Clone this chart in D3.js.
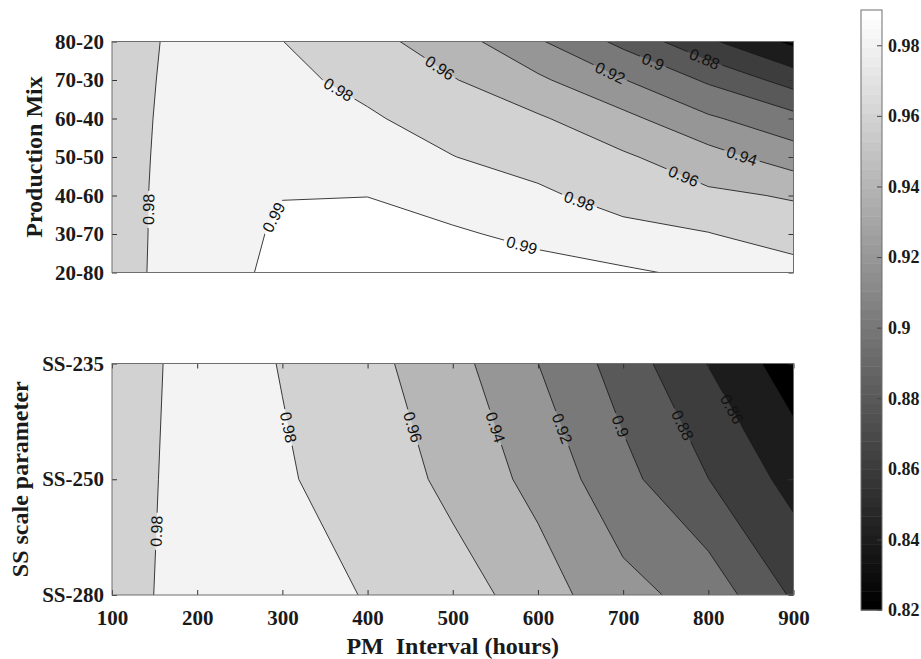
<!DOCTYPE html>
<html><head><meta charset="utf-8">
<script src="https://cdn.jsdelivr.net/npm/d3@7"></script>
<style>
html,body{margin:0;padding:0;background:#fff;}
svg{display:block;}
</style></head>
<body>
<svg id="chart" width="921" height="659"></svg>
<script>
// ---------------- data ----------------
const hours = [100, 200, 300, 400, 500, 600, 700, 800, 900];

const mixLabels = ["80-20", "70-30", "60-40", "50-50", "40-60", "30-70", "20-80"];
const mix_80_20 = [0.9748, 0.9840, 0.9802, 0.9667, 0.9491, 0.9223, 0.8948, 0.8635, 0.8351];
const mix_70_30 = [0.9735, 0.9860, 0.9845, 0.9750, 0.9612, 0.9436, 0.9208, 0.8971, 0.8716];
const mix_60_40 = [0.9735, 0.9870, 0.9865, 0.9822, 0.9720, 0.9624, 0.9456, 0.9228, 0.9066];
const mix_50_50 = [0.9738, 0.9875, 0.9880, 0.9855, 0.9804, 0.9720, 0.9627, 0.9480, 0.9295];
const mix_40_60 = [0.9740, 0.9880, 0.9899, 0.9899, 0.9870, 0.9837, 0.9720, 0.9636, 0.9583];
const mix_30_70 = [0.97465, 0.9873, 0.9907, 0.9925, 0.9909, 0.9883, 0.9865, 0.9808, 0.9702];
const mix_20_80 = [0.9759, 0.9859, 0.9920, 0.9935, 0.9935, 0.9925, 0.99072, 0.9890, 0.9885];

const ssLabels = ["SS-235", "SS-250", "SS-280"];
const ss_235 = [0.9725, 0.9850, 0.9796, 0.9661, 0.9468, 0.9201, 0.8911, 0.8594, 0.8286];
const ss_250 = [0.9728, 0.9860, 0.9810, 0.9758, 0.9536, 0.9343, 0.9060, 0.8802, 0.8530];
const ss_280 = [0.9752, 0.9850, 0.9840, 0.9795, 0.9705, 0.9493, 0.9267, 0.9121, 0.8773];

const levels = [0.82, 0.84, 0.86, 0.88, 0.90, 0.92, 0.94, 0.96, 0.98, 0.99];
const colorbarTicks = [0.82, 0.84, 0.86, 0.88, 0.90, 0.92, 0.94, 0.96, 0.98];

// contour label spots (level, hours, row index)
const mixLabelSpots = [
  {level: 0.98, h: 142.3, r: 4.36}, {level: 0.99, h: 291, r: 4.58},
  {level: 0.98, h: 365.6, r: 1.26}, {level: 0.96, h: 485, r: 0.68},
  {level: 0.92, h: 684.9, r: 0.81}, {level: 0.90, h: 733.9, r: 0.59},
  {level: 0.88, h: 794.6, r: 0.51}, {level: 0.94, h: 839.5, r: 2.97},
  {level: 0.96, h: 771.1, r: 3.49}, {level: 0.98, h: 647.8, r: 4.19},
  {level: 0.99, h: 580.9, r: 5.31}
];
const ssLabelSpots = [
  {level: 0.98, h: 153.2, r: 1.45}, {level: 0.98, h: 308.6, r: 0.55},
  {level: 0.96, h: 449.8, r: 0.557}, {level: 0.94, h: 547.6, r: 0.557},
  {level: 0.92, h: 623.5, r: 0.575}, {level: 0.90, h: 696.3, r: 0.544},
  {level: 0.88, h: 766.7, r: 0.544}, {level: 0.86, h: 823.9, r: 0.41}
];

// ---------------- drawing ----------------
const svg = d3.select("#chart");
const X0 = 112, X1 = 793.5;
const x = d3.scaleLinear().domain([100, 900]).range([X0, X1]);
const cmin = 0.82, cmax = 0.99;
function grayOf(v) {
  const k = Math.min(63, Math.max(0, Math.floor((v - cmin) / (cmax - cmin) * 64 + 1e-9)));
  const g = Math.round(k / 63 * 255);
  return d3.rgb(g, g, g).toString();
}
const serif = "'Liberation Serif','Times New Roman',Times,serif";
const sans = "'Liberation Sans',Arial,Helvetica,sans-serif";

const defs = svg.append("defs");
const mask = defs.append("mask").attr("id", "labelGaps")
  .attr("maskUnits", "userSpaceOnUse").attr("x", 0).attr("y", 0).attr("width", 921).attr("height", 659);
mask.append("rect").attr("x", 0).attr("y", 0).attr("width", 921).attr("height", 659).attr("fill", "#fff");

function panel(cfg) {
  const grid = cfg.grid, n = hours.length, m = cfg.rows.length;
  const y = d3.scalePoint().domain(cfg.rows).range([cfg.top, cfg.bottom]);
  const xi = d3.scaleLinear().domain([0, n - 1]).range([x(hours[0]), x(hours[n - 1])]);
  const yi = d3.scaleLinear().domain([0, m - 1]).range([cfg.top, cfg.bottom]);
  const g = svg.append("g");

  // filled bands
  const bands = d3.contours().size([n, m]).thresholds(levels)(grid.flat());
  const proj = d3.geoTransform({
    point(px, py) {
      this.stream.point(xi(Math.max(0, Math.min(n - 1, px - 0.5))),
                        yi(Math.max(0, Math.min(m - 1, py - 0.5))));
    }
  });
  const gp = d3.geoPath(proj);
  g.append("g").selectAll("path").data(bands).join("path")
    .attr("d", gp).attr("fill", d => grayOf(d.value)).attr("stroke", "none");

  // contour lines (marching squares)
  function segs(t) {
    const out = [];
    for (let j = 0; j < m - 1; j++) for (let i = 0; i < n - 1; i++) {
      const a = grid[j][i], b = grid[j][i + 1], c = grid[j + 1][i + 1], d = grid[j + 1][i];
      const cr = (v0, v1) => (v0 >= t) !== (v1 >= t);
      const p = [];
      if (cr(a, b)) p.push([i + (t - a) / (b - a), j]);
      if (cr(b, c)) p.push([i + 1, j + (t - b) / (c - b)]);
      if (cr(d, c)) p.push([i + (t - d) / (c - d), j + 1]);
      if (cr(a, d)) p.push([i, j + (t - a) / (d - a)]);
      if (p.length === 2) out.push(p);
      else if (p.length === 4) { out.push([p[0], p[3]]); out.push([p[1], p[2]]); }
    }
    return out.map(s => s.map(q => [xi(q[0]), yi(q[1])]));
  }
  const lineLevels = levels.slice(1);
  const segByLevel = new Map(lineLevels.map(t => [t, segs(t)]));
  g.append("g").attr("mask", "url(#labelGaps)").selectAll("path").data(lineLevels).join("path")
    .attr("d", t => segByLevel.get(t).map(s => `M${s[0][0]},${s[0][1]}L${s[1][0]},${s[1][1]}`).join(""))
    .attr("fill", "none").attr("stroke", "#1a1a1a").attr("stroke-width", 0.85);

  // labels
  const lg = g.append("g");
  cfg.spots.forEach(sp => {
    const tx = x(sp.h), ty = yi(sp.r);
    let best = null;
    segByLevel.get(sp.level).forEach(s => {
      const [p, q] = s; const dx = q[0] - p[0], dy = q[1] - p[1];
      const L2 = dx * dx + dy * dy || 1e-9;
      let u = ((tx - p[0]) * dx + (ty - p[1]) * dy) / L2; u = Math.max(0, Math.min(1, u));
      const cx = p[0] + u * dx, cy = p[1] + u * dy;
      const dist = (cx - tx) ** 2 + (cy - ty) ** 2;
      if (!best || dist < best.dist) best = {dist, cx, cy, ang: Math.atan2(dy, dx) * 180 / Math.PI};
    });
    if (!best) return;
    let ang = best.ang;
    if (ang > 90) ang -= 180;
    if (ang <= -90) ang += 180;
    const tr = `translate(${best.cx},${best.cy}) rotate(${ang})`;
    const txt = lg.append("text").attr("transform", tr).attr("text-anchor", "middle").attr("dy", "0.36em")
      .attr("font-family", sans).attr("font-size", 16).attr("fill", "#111").text(String(sp.level));
    const w = txt.node().getComputedTextLength();
    mask.append("rect").attr("transform", tr).attr("x", -w / 2 - 3).attr("y", -8.5)
      .attr("width", w + 6).attr("height", 17).attr("fill", "#000");
  });

  // axes (inward ticks)
  const styleAxis = sel => {
    sel.select(".domain").remove();
    sel.selectAll(".tick line").attr("stroke", "#333");
    sel.selectAll(".tick text").attr("font-family", serif).attr("font-weight", "bold")
      .attr("font-size", 21).attr("fill", "#1a1a1a");
  };
  svg.append("g").attr("transform", `translate(${X0},0)`)
    .call(d3.axisLeft(y).tickSize(-5).tickSizeOuter(0).tickPadding(8)).call(styleAxis);
  svg.append("g").attr("transform", `translate(${X1},0)`)
    .call(d3.axisRight(y).tickSize(-5).tickSizeOuter(0).tickFormat("")).call(styleAxis);
  if (cfg.showX) {
    svg.append("g").attr("transform", `translate(0,${cfg.bottom})`)
      .call(d3.axisBottom(x).tickValues(hours).tickSize(-5).tickSizeOuter(0).tickPadding(15)).call(styleAxis);
    svg.append("g").attr("transform", `translate(0,${cfg.top})`)
      .call(d3.axisTop(x).tickValues(hours).tickSize(-5).tickSizeOuter(0).tickFormat("")).call(styleAxis);
  }
  // frame
  svg.append("rect").attr("x", X0).attr("y", cfg.top).attr("width", X1 - X0).attr("height", cfg.bottom - cfg.top)
    .attr("fill", "none").attr("stroke", "#6e6e6e").attr("stroke-width", 1);

  // y title
  svg.append("text").attr("transform", `translate(${cfg.titleX},${(cfg.top + cfg.bottom) / 2}) rotate(-90)`)
    .attr("text-anchor", "middle").attr("font-family", serif).attr("font-weight", "bold")
    .attr("font-size", 24).attr("fill", "#1a1a1a").text(cfg.title);
}

panel({
  rows: mixLabels,
  grid: [mix_80_20, mix_70_30, mix_60_40, mix_50_50, mix_40_60, mix_30_70, mix_20_80],
  top: 41.5, bottom: 272.5, showX: false, spots: mixLabelSpots,
  title: "Production Mix", titleX: 42
});
panel({
  rows: ssLabels,
  grid: [ss_235, ss_250, ss_280],
  top: 363.5, bottom: 595, showX: true, spots: ssLabelSpots,
  title: "SS scale parameter", titleX: 28
});

// x title
svg.append("text").attr("x", (X0 + X1) / 2).attr("y", 654).attr("text-anchor", "middle")
  .attr("font-family", serif).attr("font-weight", "bold").attr("font-size", 24).attr("fill", "#1a1a1a")
  .style("white-space", "pre").text("PM  Interval (hours)");

// colorbar
const cb = d3.scaleLinear().domain([cmin, cmax]).range([610, 10]);
const cbX = 861, cbW = 21;
const cbg = svg.append("g");
cbg.selectAll("rect").data(d3.range(64)).join("rect")
  .attr("x", cbX).attr("width", cbW)
  .attr("y", k => cb(cmin + (k + 1) * (cmax - cmin) / 64))
  .attr("height", k => cb(cmin + k * (cmax - cmin) / 64) - cb(cmin + (k + 1) * (cmax - cmin) / 64) + 0.5)
  .attr("fill", k => { const g = Math.round(k / 63 * 255); return d3.rgb(g, g, g).toString(); });
svg.append("g").attr("transform", `translate(${cbX + cbW},0)`)
  .call(d3.axisRight(cb).tickValues(colorbarTicks).tickSize(-5).tickSizeOuter(0).tickPadding(6).tickFormat(d => String(d)))
  .call(sel => {
    sel.select(".domain").remove();
    sel.selectAll(".tick line").attr("stroke", "#444");
    sel.selectAll(".tick text").attr("font-family", serif).attr("font-weight", "bold")
      .attr("font-size", 18).attr("fill", "#1a1a1a");
  });
svg.append("rect").attr("x", cbX).attr("y", 10).attr("width", cbW).attr("height", 600)
  .attr("fill", "none").attr("stroke", "#6e6e6e").attr("stroke-width", 1);
</script>
</body></html>
